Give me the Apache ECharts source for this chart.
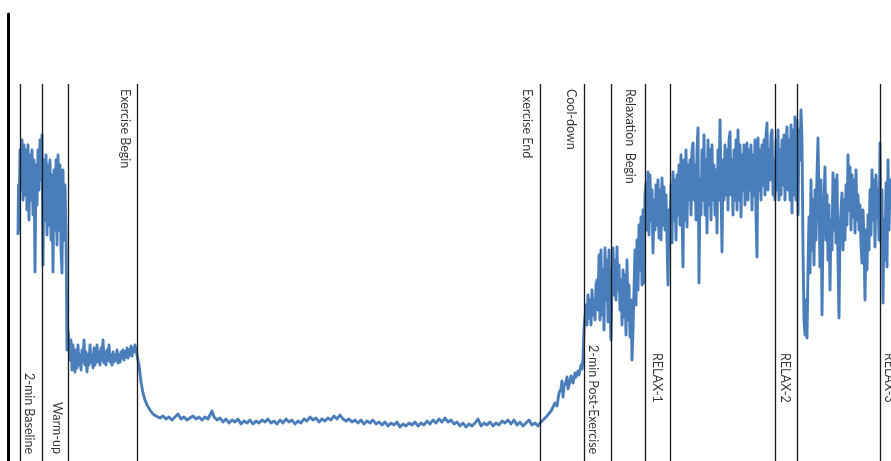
<!DOCTYPE html>
<html>
<head>
<meta charset="utf-8">
<script src="https://cdn.jsdelivr.net/npm/echarts@6/dist/echarts.min.js"></script>
<style>html,body{margin:0;padding:0;background:#fff}#c{width:891px;height:461px}</style>
</head>
<body>
<div id="c"></div>
<script>
// session timeline (time units) and signal level
const signal = [
[18,226],[18.5,276],[19,231],[20,311],[21,271],[22,321],[23,261],[24,316],[25,266],[26,311],[27,251],[28,316],[29,241],[30,306],[31,261],[32,311],[33,246],[34,301],[35,189],[36,296],[37,256],[38,311],[39,271],[40,321],[41,281],[42,326],[43,196],[44,301],[45,241],[46,306],[47,226],[48,296],[49,236],[50,301],[51,221],[52,286],[53,189],[54,291],[55,231],[56,301],[57,216],[58,306],[59,231],[60,296],[61,211],[62,188],[63,291],[64,221],[65,276],[66,231],[67,111],[68,131],[69,116],
[70,101],[71,121],[72,91],[73,116],[74,99],[75,89],[76,111],[77,93],[78,116],[79,96],[80,106],[81,91],[82,111],[83,99],[84,121],[85,96],[86,109],[87,89],[88,106],[89,96],[90,116],[91,99],[92,106],[93,93],[94,113],[95,96],[96,103],[97,116],[98,99],[99,109],[100,96],[101,113],[102,101],[103,121],[104,98],[105,109],[106,96],[107,111],[108,101],[109,116],[110,99],[111,106],[112,96],[113,109],[114,99],[115,106],[116,101],[117,111],[118,98],[119,106],[120,99],[121,109],[122,103],[123,111],[124,101],[125,109],[126,104],[127,113],[128,103],[129,111],[130,106],[131,115],[132,105],[133,113],[134,109],[135,116],[136,111],[137,111],
[139,96],[141,79],[143,68],[145,61],[147,56],[150,51],[153,47],[156,45],
[160,43],[163,45],[166,42],[169,44],[172,41],[175,44],[178,47],[181,42],[184,44],[187,41],[190,43],[193,45],[196,42],[199,44],[202,41],[205,44],[208,42],[210,46],[212,50],[214,44],[217,41],[220,43],[223,39],[226,42],[229,38],[232,41],[235,39],[238,42],[241,37],[244,40],[247,38],[250,41],[253,37],[256,40],[259,38],[262,41],[265,39],[268,42],[271,38],[274,40],[277,37],[280,41],[283,38],[286,42],[289,39],[292,41],[295,37],[298,40],[301,38],[304,42],[307,40],[310,44],[313,41],[316,43],[319,39],[322,42],[325,40],[328,43],[331,41],[334,45],[337,42],[340,46],[343,42],[346,40],[349,42],[352,39],[355,41],[358,38],[361,41],[364,37],[367,40],[370,38],[373,41],[376,37],[379,39],[382,36],[385,39],[388,35],[391,38],[394,36],[397,39],[400,34],[403,37],[406,35],[409,38],[412,36],[415,39],[418,35],[421,38],[424,36],[427,40],[430,37],[433,41],[436,38],[439,42],[442,39],[445,43],[448,39],[451,41],[454,37],[457,39],[460,35],[463,38],[466,34],[469,37],[472,35],[475,38],[478,42],[481,35],[484,38],[487,36],[490,39],[493,35],[496,38],[499,36],[502,40],[505,38],[508,41],[511,37],[514,41],[517,36],[520,39],[523,35],[526,38],[529,41],[532,36],[535,38],[538,35],[540,38],
[543,41],[545,39],[547,45],[549,43],[551,50],[553,48],[555,58],[557,55],[559,68],[561,72],[562,80],[563,64],[564,75],[566,79],[567,84],[568,72],[570,80],[571,85],[573,78],[575,88],[576,84],[578,90],[579,86],[581,96],[582,92],[583,102],[584,131],[585,144],
[586,156],[587,136],[588,166],[589,143],[590,161],[591,136],[592,171],[593,146],[594,161],[595,141],[596,176],[597,181],[598,151],[599,206],[600,141],[601,211],[602,146],[603,191],[604,131],[605,213],[606,161],[607,201],[608,139],[609,211],[610,161],[611,121],[612,181],[613,213],[614,166],[615,201],[616,161],[617,214],[618,171],[619,196],[620,151],[621,181],[622,136],[623,191],[624,144],[625,186],[626,126],[627,201],[628,141],[629,176],[630,124],[631,161],[632,101],[633,131],[634,171],[635,211],[636,156],[637,221],[638,171],[639,236],[640,191],[641,244],[642,176],[643,251],[644,178],[645,266],
[646,278],[647,231],[648,289],[649,226],[650,286],[651,241],[652,271],[653,208],[654,261],[655,231],[656,276],[657,236],[658,281],[659,223],[660,271],[661,221],[662,283],[663,236],[664,274],[665,231],[666,266],[667,221],[668,176],[669,251],[670,231],[671,276],[672,218],[673,289],[674,241],[675,281],[676,221],[677,286],[678,246],[679,296],[680,236],[681,306],[682,251],[683,194],[684,301],[685,241],[686,311],[687,234],[688,296],[689,261],[690,301],[691,246],[692,311],[693,318],[694,261],[695,296],[696,241],[697,311],[698,333],[699,178],[700,281],[701,246],[702,311],[703,261],[704,326],[705,246],[706,301],[707,228],[708,321],[709,256],[710,311],[711,241],[712,316],[713,261],[714,296],[715,246],[716,291],[717,228],[718,311],[719,261],[720,341],[721,276],[722,209],[723,301],[724,261],[725,316],[726,266],[727,311],[728,251],[729,321],[730,329],[731,266],[732,301],[733,246],[734,311],[735,261],[736,321],[737,251],[738,331],[739,261],[740,316],[741,244],[742,306],[743,271],[744,316],[745,256],[746,301],[747,318],[748,261],[749,311],[750,271],[751,316],[752,251],[753,306],[754,266],[755,321],[756,246],[757,204],[758,323],[759,271],[760,311],[761,261],[762,316],[763,276],[764,321],[765,266],[766,326],[767,338],[768,271],[769,311],[770,281],[771,326],[772,331],[773,266],[774,301],[775,261],[776,321],[777,271],[778,331],[779,261],[780,311],[781,266],[782,321],[783,276],[784,326],[785,261],[786,316],[787,334],[788,271],[789,321],[790,261],[791,336],[792,248],[793,331],[794,266],[795,344],[796,261],[797,341],[798,246],[799,331],[800,301],[801,351],[802,321],
[803,211],[804,141],[805,126],[806,161],[807,123],[808,191],[809,244],[810,188],[811,281],[812,211],[813,261],[814,196],[815,271],[816,221],[817,286],[818,323],[819,261],[820,194],[821,281],[822,146],[823,231],[824,261],[825,294],[826,221],[827,266],[828,201],[829,256],[830,171],[831,241],[832,211],[833,288],[834,231],[835,281],[836,218],[837,286],[838,201],[839,143],[840,231],[841,251],[842,268],[843,211],[844,261],[845,221],[846,276],[847,236],[848,306],[849,251],[850,294],[851,231],[852,286],[853,244],[854,281],[855,228],[856,291],[857,241],[858,266],[859,231],[860,256],[861,216],[862,198],[863,251],[864,221],[865,161],[866,231],[867,191],[868,246],[869,211],[870,271],[871,226],[872,291],[873,241],[874,281],[875,214],[876,286],[877,244],[878,271],[879,221],[880,318],[881,218],[882,271],[883,158],[884,241],[885,201],[886,278],[887,194],[888,301],[889,231],[890,281],[891,251]
];

// phase boundaries (time units)
const markerTimes = [20, 42.5, 68, 137.5, 540, 584, 611, 645.5, 670.5, 775, 797.5, 880.5];
const markerTop = 377;

// phase labels: text, time position of label centre, level of label start
const labelTexts = ["Exercise Begin", "2-min Baseline", "Warm-up", "Exercise End", "Cool-down", "Relaxation  Begin", "2-min Post-Exercise", "RELAX-1", "RELAX-2", "RELAX-3"];
const labelTimes = [125.5, 29, 57, 527, 571, 630.5, 593.5, 657, 785, 889];
const labelTops  = [372, 88, 59, 372, 372, 372, 116, 108, 108, 108];

const chart = echarts.init(document.getElementById('c'), null, {renderer: 'canvas'});
const font = 'Lato, "Open Sans", sans-serif';
chart.setOption({
  animation: false,
  backgroundColor: '#ffffff',
  grid: {left: 8, right: 0, top: 14, bottom: 0, containLabel: false},
  xAxis: {type: 'value', min: 8, max: 891, show: false},
  yAxis: {
    type: 'value', min: 0, max: 447,
    axisLine: {show: true, lineStyle: {color: '#000', width: 3}},
    axisTick: {show: false}, axisLabel: {show: false}, splitLine: {show: false}
  },
  series: [
    {
      type: 'line', data: signal, showSymbol: false, symbol: 'none',
      lineStyle: {color: '#4a7ebb', width: 2.9, join: 'round'},
      z: 2, silent: true
    },
    {
      type: 'line', data: [], z: 3, silent: true,
      markLine: {
        silent: true, symbol: ['none', 'none'], animation: false,
        label: {show: false},
        lineStyle: {color: '#1a1a1a', width: 1.3, type: 'solid'},
        data: markerTimes.map(t => [{coord: [t, markerTop]}, {coord: [t, 0]}])
      }
    },
    {
      type: 'scatter', z: 4, silent: true, symbolSize: 0,
      data: labelTexts.map((s, i) => ({value: [labelTimes[i], labelTops[i]], name: s})),
      label: {
        show: true, position: [0, 0], rotate: -90,
        align: 'left', verticalAlign: 'middle',
        formatter: p => p.name,
        fontFamily: font, fontSize: 12.5, color: '#000'
      }
    }
  ]
});
</script>
</body>
</html>
